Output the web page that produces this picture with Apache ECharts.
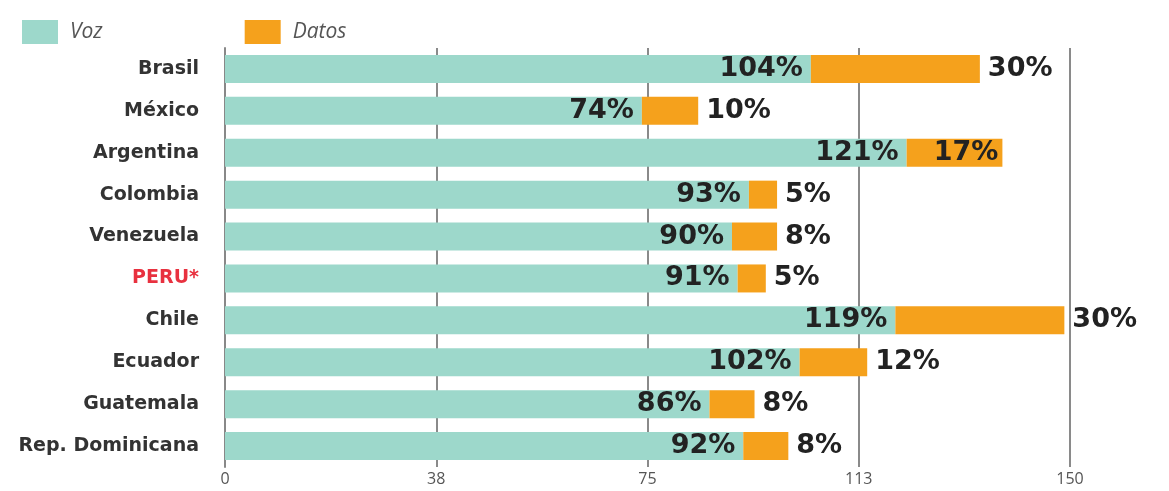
<!DOCTYPE html>
<html>
<head>
<meta charset="utf-8">
<script src="https://cdn.jsdelivr.net/npm/echarts@6/dist/echarts.min.js"></script>
<style>
  html, body { margin: 0; padding: 0; background: #fff; }
  #chart { width: 1169px; height: 491px; }
</style>
</head>
<body>
<div id="chart"></div>
<script>
// datos
var paises = ['Brasil', 'México', 'Argentina', 'Colombia', 'Venezuela', 'PERU*', 'Chile', 'Ecuador', 'Guatemala', 'Rep. Dominicana'];
var voz = [104, 74, 121, 93, 90, 91, 119, 102, 86, 92];
var datos = [30, 10, 17, 5, 8, 5, 30, 12, 8, 8];
var resaltado = 'PERU*';
var datosDentro = ['Argentina']; // etiqueta de datos dentro de la barra

var myChart = echarts.init(document.getElementById('chart'));

var labelFont = {
  color: '#222',
  fontFamily: 'DejaVu Sans',
  fontWeight: 'bold',
  fontSize: 27
};

var option = {
  animation: false,
  legend: {
    left: 17,
    top: 15,
    itemWidth: 36,
    itemHeight: 24,
    itemGap: 142,
    icon: 'rect',
    textStyle: {
      color: '#555',
      fontStyle: 'italic',
      fontFamily: 'Open Sans',
      fontSize: 21,
      padding: [0, 0, 0, 7]
    },
    data: ['Voz', 'Datos']
  },
  grid: {
    left: 225,
    right: 99,
    top: 48,
    bottom: 24
  },
  xAxis: {
    type: 'value',
    min: 0,
    max: 150,
    interval: 37.5,
    axisLine: { show: false },
    axisTick: { show: false },
    axisLabel: {
      color: '#555',
      fontFamily: 'Open Sans',
      fontSize: 16,
      margin: 4,
      formatter: function (v) { return Math.round(v); }
    },
    splitLine: {
      lineStyle: { color: '#8a8a8a', width: 2 }
    }
  },
  yAxis: {
    type: 'category',
    inverse: true,
    data: paises,
    axisTick: { show: false },
    axisLine: {
      show: true,
      lineStyle: { color: '#888', width: 2 }
    },
    axisLabel: {
      margin: 26,
      fontFamily: 'DejaVu Sans',
      fontWeight: 'bold',
      fontSize: 19,
      color: function (value) {
        return value === resaltado ? '#e8313f' : '#333';
      }
    }
  },
  series: [
    {
      name: 'Voz',
      type: 'bar',
      stack: 'total',
      barWidth: 28,
      color: '#9dd8cb',
      data: voz,
      label: Object.assign({
        show: true,
        position: 'insideRight',
        distance: 8,
        formatter: '{c}%'
      }, labelFont)
    },
    {
      name: 'Datos',
      type: 'bar',
      stack: 'total',
      barWidth: 28,
      color: '#f5a11c',
      data: datos.map(function (v, i) {
        if (datosDentro.indexOf(paises[i]) > -1) {
          return { value: v, label: { position: 'insideRight', distance: 4 } };
        }
        return v;
      }),
      label: Object.assign({
        show: true,
        position: 'right',
        distance: 8,
        formatter: '{c}%'
      }, labelFont)
    }
  ]
};

myChart.setOption(option);
</script>
</body>
</html>
